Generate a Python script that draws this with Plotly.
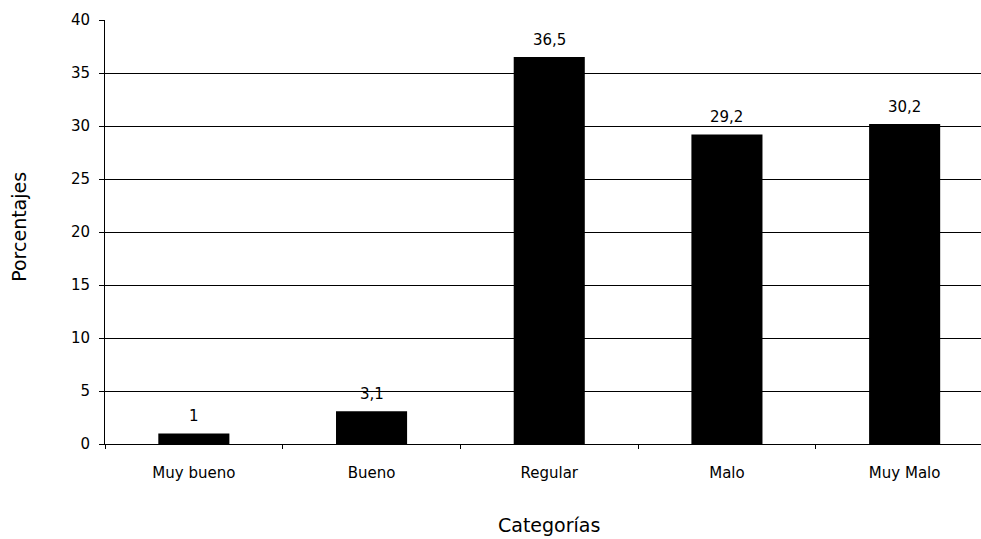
import plotly.graph_objects as go

categorias = ["Muy bueno", "Bueno", "Regular", "Malo", "Muy Malo"]
porcentajes = [1, 3.1, 36.5, 29.2, 30.2]
y_ticks = [0, 5, 10, 15, 20, 25, 30, 35, 40]

W, H = 981, 539
left, top, bottom = 104.5, 19.5, 95

etiquetas = [f"{v:g}".replace(".", ",") for v in porcentajes]

fig = go.Figure()
fig.add_trace(go.Bar(
    x=categorias,
    y=porcentajes,
    width=0.4,
    marker=dict(color="black", line=dict(width=0)),
    hoverinfo="skip",
))

# value labels above each bar
for cat, val, lab in zip(categorias, porcentajes, etiquetas):
    fig.add_annotation(
        x=cat, y=val, text=lab, showarrow=False,
        xanchor="center", yanchor="bottom", yshift=6,
        font=dict(family="DejaVu Sans", size=15, color="black"),
    )

plot_w = W - left
plot_h = H - top - bottom
# category band width: five bands span ~889 px, the last one runs past the page edge
band = 177.8
x_end = -0.5 + plot_w / band

fig.add_annotation(
    text="Categorías", xref="paper", yref="paper",
    x=(549 - left) / plot_w, y=-(525 - (H - bottom)) / plot_h,
    xanchor="center", yanchor="middle", showarrow=False,
    font=dict(family="DejaVu Sans", size=19, color="black"),
)
fig.add_annotation(
    text="Porcentajes", xref="paper", yref="paper",
    x=(19 - left) / plot_w, y=(H - bottom - 227) / plot_h,
    xanchor="center", yanchor="middle", textangle=-90, showarrow=False,
    font=dict(family="DejaVu Sans", size=19, color="black"),
)

fig.update_layout(
    width=W, height=H,
    margin=dict(l=left, r=0, t=top, b=bottom, pad=0),
    paper_bgcolor="white", plot_bgcolor="white",
    showlegend=False,
    bargap=0.6,
    font=dict(family="DejaVu Sans", size=15, color="black"),
)
fig.update_xaxes(
    type="category",
    range=[-0.5, x_end],
    tickson="boundaries",
    ticks="outside", ticklen=4, tickcolor="black", tickwidth=1,
    showline=True, linecolor="black", linewidth=1,
    showgrid=False, zeroline=False,
    tickfont=dict(family="DejaVu Sans", size=15, color="black"),
    ticklabelstandoff=15,
)
fig.update_yaxes(
    range=[0, 40],
    tickvals=y_ticks,
    ticks="outside", ticklen=5, tickcolor="black", tickwidth=1,
    showline=True, linecolor="black", linewidth=1,
    showgrid=True, gridcolor="black", gridwidth=1,
    zeroline=False,
    tickfont=dict(family="DejaVu Sans", size=15, color="black"),
    ticklabelstandoff=6,
)

fig.write_html("out.html")
